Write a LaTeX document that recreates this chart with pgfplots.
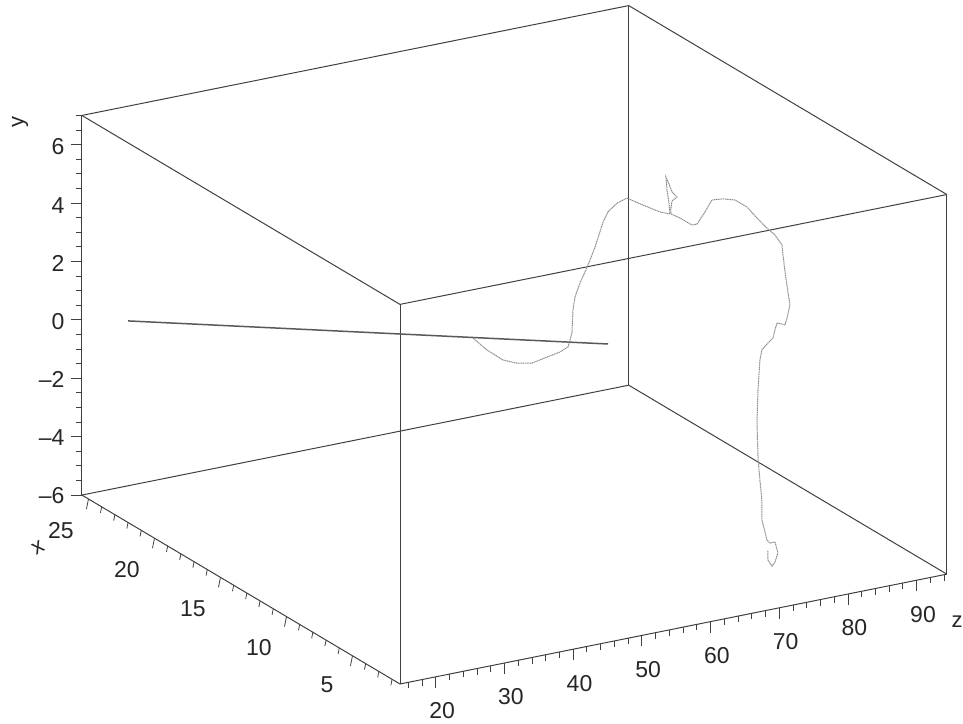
\documentclass[border=0pt]{standalone}
\usepackage{fontspec}
\setmainfont{Liberation Sans}
\usepackage{pgfplots}
\pgfplotsset{compat=1.18}
\tikzset{tk/.style={black!75, line width=0.8pt}}
\begin{document}
\begin{tikzpicture}
\begin{axis}[
  x={(13.2pt,-7.84pt)}, x dir=reverse, y={(6.87pt,1.38pt)}, z={(0pt,29.2pt)},
  xmin=1.4, xmax=25.5, ymin=14.8, ymax=94.4, zmin=-6, zmax=7,
  clip=false,
  axis line style={black!75, line width=1pt},
  xtick={5,10,15,20,25}, ytick={20,30,40,50,60,70,80,90}, ztick={-6,-4,-2,0,2,4,6},
  zticklabels={--6,--4,--2,0,2,4,6},
  tick align=outside,
  major tick length=9pt,
  tick style={draw=none},
  /pgf/number format/assume math mode=true,
  ticklabel style={font=\fontsize{23}{23}\selectfont, text=black!85},
  xticklabel style={xshift=-7pt, yshift=-15pt},
  yticklabel style={xshift=-9pt, yshift=-16pt},
  zticklabel style={xshift=-5pt, yshift=-2pt},
]
\draw[black!75, line width=1pt] (axis cs:25.5,14.8,7) -- (axis cs:1.4,14.8,7) -- (axis cs:1.4,94.4,7);
\draw[black!75, line width=1pt] (axis cs:1.4,14.8,-6) -- (axis cs:1.4,14.8,7);
% tick marks on the three labelled axes
\pgfplotsinvokeforeach{5,10,15,20,25}{\draw[tk] (axis cs:#1,14.8,-6) -- ++(-2pt,-10pt);}
\pgfplotsinvokeforeach{2,3,4,6,7,8,9,11,12,13,14,16,17,18,19,21,22,23,24}{\draw[tk] (axis cs:#1,14.8,-6) -- ++(-1.2pt,-6pt);}
\pgfplotsinvokeforeach{20,30,40,50,60,70,80,90}{\draw[tk] (axis cs:1.4,#1,-6) -- ++(0pt,-11pt);}
\pgfplotsinvokeforeach{16,18,22,24,26,28,32,34,36,38,42,44,46,48,52,54,56,58,62,64,66,68,72,74,76,78,82,84,86,88,92,94}{\draw[tk] (axis cs:1.4,#1,-6) -- ++(0pt,-6pt);}
\pgfplotsinvokeforeach{-6,-4,-2,0,2,4,6}{\draw[tk] (axis cs:25.5,14.8,#1) -- ++(-11pt,0pt);}
\pgfplotsinvokeforeach{-5.5,-5,-4.5,-3.5,-3,-2.5,-1.5,-1,-0.5,0.5,1,1.5,2.5,3,3.5,4.5,5,5.5,6.5,7}{\draw[tk] (axis cs:25.5,14.8,#1) -- ++(-6pt,0pt);}
\addplot3[black!65, line width=1.5pt] coordinates {(22.40,15.56,0.76) (11.40,64.29,0.62)};
\addplot3[black!45, line width=1pt, dash pattern=on 1.2pt off 0.6pt] coordinates {
(15.97,53.42,0.11) (15.48,54.52,-0.22) (14.92,55.77,-0.47) (14.43,56.87,-0.50)
(13.90,58.03,-0.41) (13.38,59.21,-0.12) (12.92,60.23,0.13) (12.64,60.86,0.35)
(12.50,61.16,0.85) (12.47,61.25,1.64) (12.40,61.41,2.10) (12.23,61.80,2.60)
(12.05,62.19,3.01) (11.88,62.59,3.45) (11.70,62.98,3.92) (11.53,63.37,4.47)
(11.42,63.61,4.82) (11.25,64.00,5.20) (10.93,64.70,5.55) (10.58,65.48,5.78)
(10.02,66.74,5.63) (9.43,68.08,5.49) (9.08,68.86,5.48)
(9.11,68.77,5.85) (9.18,68.61,6.28) (9.22,68.54,6.72) (9.11,68.77,6.50)
(9.01,69.01,6.25) (8.83,69.40,6.10) (9.01,69.01,5.94) (9.04,68.92,5.69)
(9.04,68.92,5.49)
(8.73,69.63,5.40) (8.31,70.56,5.23) (8.13,70.96,5.29) (7.85,71.58,5.75)
(7.61,72.14,6.20) (7.22,73.00,6.30) (6.80,73.94,6.33) (6.38,74.87,6.16)
(6.03,75.66,5.84) (5.68,76.44,5.55) (5.40,77.07,5.36) (5.16,77.62,5.06)
(5.12,77.70,4.72) (5.05,77.86,4.15) (4.95,78.09,3.48) (4.88,78.25,3.05)
(4.98,78.02,2.59) (5.05,77.86,2.34) (5.33,77.23,2.36) (5.40,77.07,2.11)
(5.47,76.91,1.82) (5.65,76.52,1.62) (5.86,76.05,1.35) (5.93,75.89,0.99)
(6.00,75.75,-0.04) (6.03,75.66,-1.18) (6.00,75.75,-2.34) (5.93,75.89,-3.12)
(5.86,76.05,-3.79) (5.86,76.05,-4.47) (5.68,76.44,-5.13) (5.58,76.68,-5.22)
(5.40,77.07,-5.15) (5.30,77.30,-5.51) (5.40,77.07,-5.84) (5.51,76.84,-6.00)
(5.65,76.52,-5.81) (5.65,76.52,-5.47)
};
\coordinate (fc) at (axis cs:1.4,14.8,-6);
\end{axis}
\path (fc) ++(-380pt,562pt) node[rotate=90, font=\fontsize{22}{22}\selectfont, text=black!85] {y};
\path (fc) ++(-362pt,136pt) node[rotate=30, font=\fontsize{22}{22}\selectfont, text=black!85] {x};
\path (fc) ++(557pt,62pt) node[font=\fontsize{22}{22}\selectfont, text=black!85] {z};
\pgfresetboundingbox
\path[use as bounding box] (fc) ++(-400pt,-39pt) rectangle ++(963pt,723pt);
\end{tikzpicture}
\end{document}
